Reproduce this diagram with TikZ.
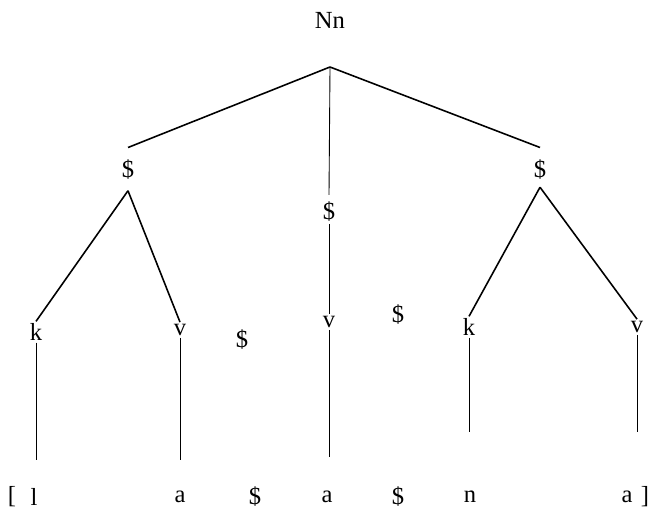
\documentclass[tikz,border=0pt]{standalone}
\usepackage{fontspec}
\setmainfont{Liberation Serif}
\tikzset{
  lab/.style={font=\fontsize{14}{16}\selectfont, inner sep=1pt},
  branch/.style={line width=0.9pt},
  stem/.style={line width=0.5pt}
}
\begin{document}
\begin{tikzpicture}
    \useasboundingbox (0,0) rectangle (13,10.42);

    % root
    \node[lab] (root) at (6.6,10.02) {Nn};
    \coordinate (apex) at (6.6,9.08);

    % syllable level
    \node[lab] (sL) at (2.56,7.02) {\$};
    \node[lab] (sM) at (6.58,6.18) {\$};
    \node[lab] (sR) at (10.8,7.02) {\$};

    \draw[branch] (apex) -- ([yshift=6pt]sL.north);
    \draw[stem] (apex) -- ([yshift=3pt]sM.north);
    \draw[branch] (apex) -- ([yshift=6pt]sR.north);

    % k / v level
    \node[lab] (kL) at (0.72,3.78) {k};
    \node[lab] (vL) at (3.6,3.82) {v};
    \node[lab] (dL) at (4.84,3.62) {\$};
    \node[lab] (vM) at (6.58,3.98) {v};
    \node[lab] (dR) at (7.96,4.12) {\$};
    \node[lab] (kR) at (9.38,3.88) {k};
    \node[lab] (vR) at (12.74,3.88) {v};

    \draw[branch] ([yshift=-5pt]sL.south) -- (kL.north);
    \draw[branch] ([yshift=-5pt]sL.south) -- (vL.north);
    \draw[stem] (sM.south) -- (vM.north);
    \draw[branch] ([yshift=-3pt]sR.south) -- (kR.north);
    \draw[branch] ([yshift=-3pt]sR.south) -- (vR.north);

    % segments
    \node[lab] (bo) at (0.24,0.48) {[};
    \node[lab] (l) at (0.68,0.48) {l};
    \node[lab] (a1) at (3.6,0.48) {a};
    \node[lab] (d1) at (5.1,0.48) {\$};
    \node[lab] (a2) at (6.54,0.48) {a};
    \node[lab] (d2) at (7.96,0.48) {\$};
    \node[lab] (n) at (9.4,0.48) {n};
    \node[lab] (a3) at (12.54,0.48) {a};
    \node[lab] (bc) at (12.9,0.48) {]};

    \coordinate (eL) at (0.72,1.22);
    \coordinate (eA) at (3.6,1.22);
    \coordinate (eM) at (6.58,1.28);
    \coordinate (eK) at (9.38,1.78);
    \coordinate (eV) at (12.74,1.78);

    \draw[stem] (kL.south) -- (eL);
    \draw[stem] (vL.south) -- (eA);
    \draw[stem] (vM.south) -- (eM);
    \draw[stem] (kR.south) -- (eK);
    \draw[stem] (vR.south) -- (eV);
\end{tikzpicture}
\end{document}
